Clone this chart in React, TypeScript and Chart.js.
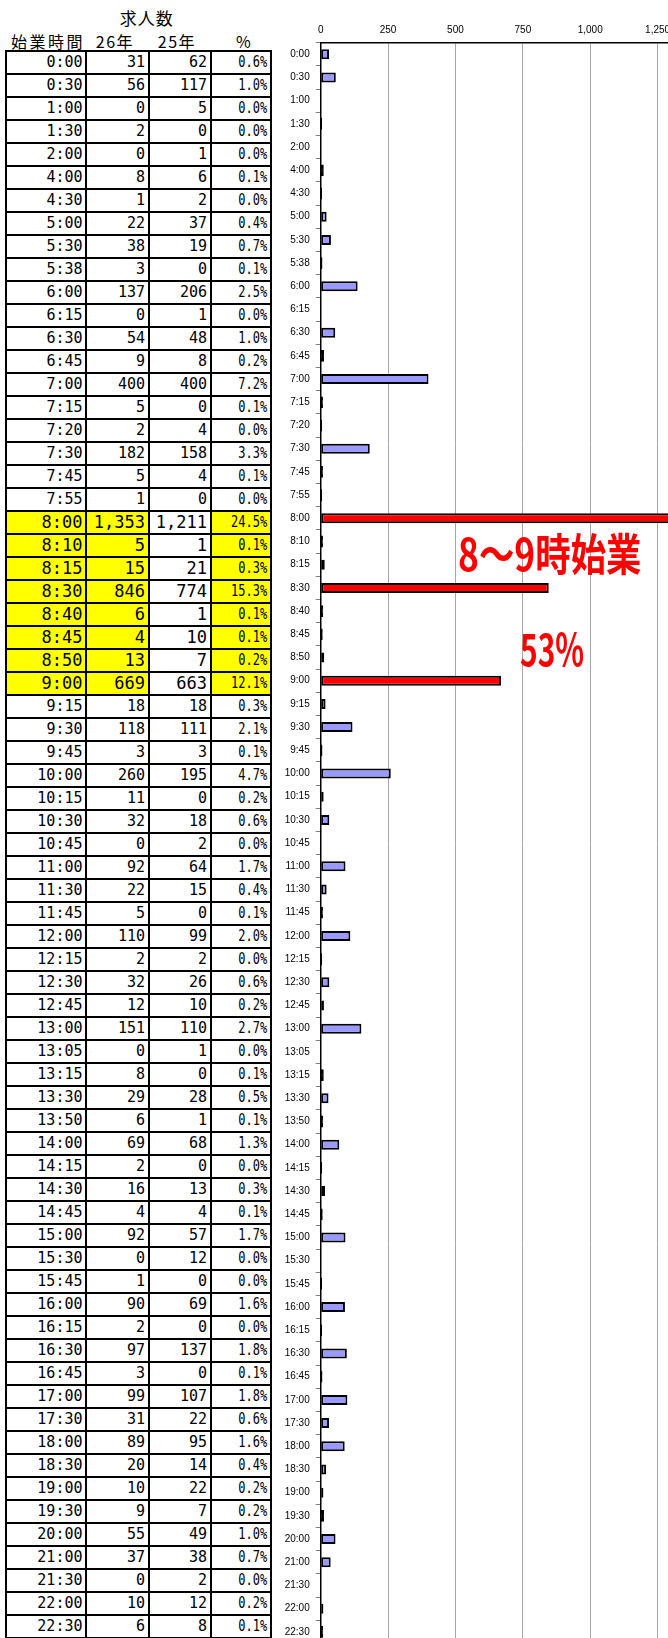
import React, { useEffect, useRef } from 'react';
import { Chart, registerables } from 'chart.js';

Chart.register(...registerables);

const categories = ['0:00','0:30','1:00','1:30','2:00','4:00','4:30','5:00','5:30','5:38','6:00','6:15','6:30','6:45','7:00','7:15','7:20','7:30','7:45','7:55','8:00','8:10','8:15','8:30','8:40','8:45','8:50','9:00','9:15','9:30','9:45','10:00','10:15','10:30','10:45','11:00','11:30','11:45','12:00','12:15','12:30','12:45','13:00','13:05','13:15','13:30','13:50','14:00','14:15','14:30','14:45','15:00','15:30','15:45','16:00','16:15','16:30','16:45','17:00','17:30','18:00','18:30','19:00','19:30','20:00','21:00','21:30','22:00','22:30'];
const jobs26 = [31,56,0,2,0,8,1,22,38,3,137,0,54,9,400,5,2,182,5,1,1353,5,15,846,6,4,13,669,18,118,3,260,11,32,0,92,22,5,110,2,32,12,151,0,8,29,6,69,2,16,4,92,0,1,90,2,97,3,99,31,89,20,10,9,55,37,0,10,6];
const jobs25 = [62,117,5,0,1,6,2,37,19,0,206,1,48,8,400,0,4,158,4,0,1211,1,21,774,1,10,7,663,18,111,3,195,0,18,2,64,15,0,99,2,26,10,110,1,0,28,1,68,0,13,4,57,12,0,69,0,137,0,107,22,95,14,22,7,49,38,2,12,8];
const percent = [0.6,1.0,0.0,0.0,0.0,0.1,0.0,0.4,0.7,0.1,2.5,0.0,1.0,0.2,7.2,0.1,0.0,3.3,0.1,0.0,24.5,0.1,0.3,15.3,0.1,0.1,0.2,12.1,0.3,2.1,0.1,4.7,0.2,0.6,0.0,1.7,0.4,0.1,2.0,0.0,0.6,0.2,2.7,0.0,0.1,0.5,0.1,1.3,0.0,0.3,0.1,1.7,0.0,0.0,1.6,0.0,1.8,0.1,1.8,0.6,1.6,0.4,0.2,0.2,1.0,0.7,0.0,0.2,0.1];
const highlighted = ['8:00','8:10','8:15','8:30','8:40','8:45','8:50','9:00'];
const xTicks = [0, 250, 500, 750, 1000, 1250, 1500];
const headerTitle = '求人数';
const headerCols = ['始業時間', '26年', '25年', '%'];
const noteMain = '8〜9時始業';
const noteShare = '53%';

const colX = [6, 86, 148.5, 210.5, 270.5];
const tableTop = 51;
const rowH = 23;
const mono = '"DejaVu Sans Mono", monospace';
const cjk = '"Noto Sans CJK JP", sans-serif';

function fmt(n: number) {
  return n.toLocaleString('en-US');
}

export default function App() {
  const canvasRef = useRef<HTMLCanvasElement | null>(null);

  useEffect(() => {
    const canvas = canvasRef.current;
    if (!canvas) return;
    const chart = new Chart(canvas, {
      type: 'bar',
      data: {
        labels: categories,
        datasets: [
          {
            data: jobs26,
            backgroundColor: (c: any) => {
              const v = jobs26[c.dataIndex];
              if (v < 10) return '#000000';
              return highlighted.includes(categories[c.dataIndex]) ? '#FF0000' : '#9999FF';
            },
            borderColor: '#000000',
            borderWidth: 2,
            borderSkipped: false,
            barThickness: 10,
            inflateAmount: (c: any) => {
              const v = jobs26[c.dataIndex];
              return v > 0 && v < 10 ? 0.9 : 0;
            },
          } as any,
        ],
      },
      options: {
        indexAxis: 'y',
        responsive: false,
        maintainAspectRatio: false,
        animation: false,
        layout: { padding: { left: 0, right: 40, top: 0, bottom: 20.5 } },
        plugins: { legend: { display: false }, tooltip: { enabled: false } },
        scales: {
          x: {
            position: 'top',
            min: 0,
            max: 1500,
            afterBuildTicks: (s: any) => {
              s.ticks = xTicks.map((v) => ({ value: v }));
            },
            afterFit: (s: any) => {
              s.height = 42.7;
            },
            grid: { color: '#a6a6a6', lineWidth: 1, drawTicks: false },
            border: { color: '#000000', width: 1.5 },
            ticks: {
              padding: 6,
              autoSkip: false,
              maxRotation: 0,
              color: '#000000',
              font: { family: '"Liberation Sans", Arial, sans-serif', size: 10 },
              callback: (v: any) => fmt(Number(v)),
            },
          },
          y: {
            afterFit: (s: any) => {
              s.width = 50.7;
            },
            grid: { drawOnChartArea: false, offset: true, tickLength: 5, color: '#808080', lineWidth: 1 },
            border: { color: '#000000', width: 1.5 },
            ticks: {
              padding: 6,
              autoSkip: false,
              color: '#000000',
              font: { family: '"Liberation Sans", Arial, sans-serif', size: 10 },
            },
          },
        },
      } as any,
    });
    return () => chart.destroy();
  }, []);

  const cells: any[] = [];
  categories.forEach((cat, i) => {
    const hi = highlighted.includes(cat);
    const top = tableTop + i * rowH;
    const texts = [cat, fmt(jobs26[i]), fmt(jobs25[i]), percent[i].toFixed(1) + '%'];
    texts.forEach((t, j) => {
      const bg = hi && j !== 2 ? '#FFFF00' : '#FFFFFF';
      const isPct = j === 3;
      const size = isPct ? 15 : hi ? 17 : 15;
      cells.push(
        <div
          key={`c${i}-${j}`}
          style={{
            position: 'absolute',
            left: colX[j],
            top,
            width: colX[j + 1] - colX[j] - 3.5,
            height: rowH,
            paddingRight: 3.5,
            background: bg,
            textAlign: 'right',
            fontFamily: mono,
            fontSize: size,
            lineHeight: `${rowH}px`,
            color: '#000',
            whiteSpace: 'nowrap',
          }}
        >
          <span
            style={{
              display: 'inline-block',
              transform: isPct ? 'scaleX(0.8)' : undefined,
              transformOrigin: 'right center',
            }}
          >
            {t}
          </span>
        </div>
      );
    });
  });

  const lines: any[] = [];
  for (let i = 0; i <= categories.length; i++) {
    lines.push(
      <div
        key={`h${i}`}
        style={{
          position: 'absolute',
          left: colX[0] - 1,
          top: tableTop + i * rowH - 1,
          width: colX[4] - colX[0] + 2,
          height: 2,
          background: '#000',
        }}
      />
    );
  }
  colX.forEach((x, k) => {
    lines.push(
      <div
        key={`v${k}`}
        style={{
          position: 'absolute',
          left: x - 1,
          top: tableTop - 1,
          width: 2,
          height: 1638 - tableTop + 1,
          background: '#000',
        }}
      />
    );
  });

  const headerCenters = [48, 115, 177, 244];

  return (
    <div
      style={{
        position: 'absolute',
        left: 0,
        top: 0,
        width: 668,
        height: 1638,
        overflow: 'hidden',
        background: '#ffffff',
      }}
    >
      <div
        style={{
          position: 'absolute',
          left: 146.7 - 50,
          width: 100,
          top: 7.5,
          height: 20,
          lineHeight: '20px',
          textAlign: 'center',
          fontFamily: cjk,
          fontSize: 17,
          letterSpacing: 1,
        }}
      >
        {headerTitle}
      </div>
      {headerCols.map((h, k) => (
        <div
          key={`hd${k}`}
          style={{
            position: 'absolute',
            left: headerCenters[k] - 50,
            width: 100,
            top: 31,
            height: 20,
            lineHeight: '20px',
            textAlign: 'center',
            fontFamily: cjk,
            fontSize: 16,
            letterSpacing: k === 0 ? 2.5 : 1.5,
            whiteSpace: 'nowrap',
          }}
        >
          {h}
        </div>
      ))}
      {cells}
      {lines}
      <canvas
        ref={canvasRef}
        width={495}
        height={1664}
        style={{ position: 'absolute', left: 270, top: 0, width: 495, height: 1664 }}
      />
      <div
        style={{
          position: 'absolute',
          left: 458,
          top: 530,
          fontFamily: cjk,
          fontWeight: 700,
          fontSize: 44,
          lineHeight: 1,
          color: '#FF0000',
          whiteSpace: 'nowrap',
          transform: 'scaleX(0.805)',
          transformOrigin: 'left center',
        }}
      >
        {noteMain}
      </div>
      <div
        style={{
          position: 'absolute',
          left: 520,
          top: 625,
          fontFamily: cjk,
          fontWeight: 700,
          fontSize: 44,
          lineHeight: 1,
          color: '#FF0000',
          whiteSpace: 'nowrap',
          transform: 'scaleX(0.68)',
          transformOrigin: 'left center',
        }}
      >
        {noteShare}
      </div>
    </div>
  );
}
